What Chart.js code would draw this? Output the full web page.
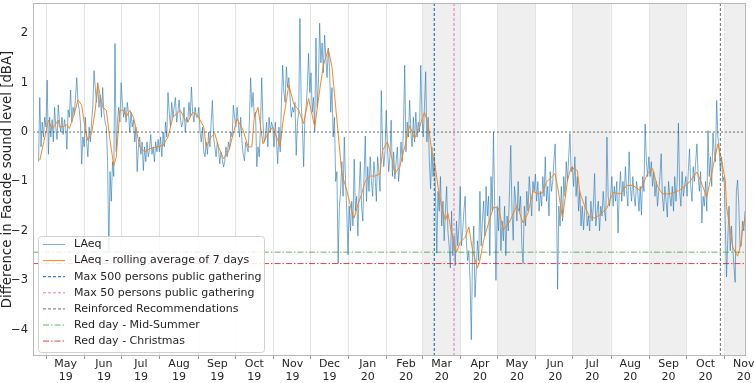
<!DOCTYPE html>
<html>
<head>
<meta charset="utf-8">
<script src="https://cdn.jsdelivr.net/npm/chart.js@4.4.0/dist/chart.umd.min.js"></script>
<style>
  html, body { margin: 0; padding: 0; background: #fff; }
  #wrap { width: 755px; height: 383px; }
</style>
</head>
<body>
<div id="wrap"><canvas id="chart" width="755" height="383"></canvas></div>
<script>
// day numbers are counted from 1 May 2019 (= day 0)

// first day of every block of daily values below (Apr 25 2019, then month starts)
const monthStarts = [-6, 0, 31, 61, 92, 123, 153, 184, 214, 245, 276, 305, 336, 366, 397, 427, 458, 489, 519, 550];

// x tick labels (one per month, May 19 .. Nov 20)
const tickLabels = [
  ["May", "19"], ["Jun", "19"], ["Jul", "19"], ["Aug", "19"], ["Sep", "19"], ["Oct", "19"],
  ["Nov", "19"], ["Dec", "19"], ["Jan", "20"], ["Feb", "20"], ["Mar", "20"], ["Apr", "20"],
  ["May", "20"], ["Jun", "20"], ["Jul", "20"], ["Aug", "20"], ["Sep", "20"], ["Oct", "20"], ["Nov", "20"]
];
const yTicks = [-4, -3, -2, -1, 0, 1, 2];

// daily LAeq difference [dBA], one array per month block
const laeqDaily = [
  [-0.6, 0.7, -0.3, 0.2, -0.1, 0.3],
  [0.1, 1.05, -0.45, 0.3, -0.1, 0.25, -0.2, 0.5, 0.1, -0.15, 0.55, 0.2, 0.0, 0.3, -0.05, 0.25, 0.1, -0.35, 0.45, 0.3, 0.85, 0.2, 0.5, 0.35, 0.7, 1.1, 0.6, 0.45, 0.2, -0.65, -0.1],
  [-0.3, 0.3, -0.2, -0.5, 0.1, -0.2, 0.2, 0.5, 1.24, 0.9, 0.6, 1.0, 0.5, 0.75, 0.3, 0.9, 0.4, 0.2, 0.1, -0.6, -2.43, -0.8, -1.4, -0.6, -0.9, 1.79, -0.4, 0.2, 0.5, 0.2],
  [1.0, 0.6, 0.3, 0.5, 0.2, 0.6, 0.35, 0.0, 0.4, 0.1, 0.25, -0.2, 0.1, -0.8, -0.3, -0.1, -0.45, -0.2, -0.78, -0.3, -0.6, -0.2, -0.5, -0.35, -0.05, -0.45, -0.3, -0.6, -0.2, -0.4, -0.15],
  [-0.4, -0.1, -0.5, 0.0, -0.3, 0.2, -0.1, 0.8, 0.4, 0.1, 0.6, 0.3, 0.5, 0.7, 0.2, 0.4, 0.65, 0.3, 0.1, 0.2, 0.5, 0.0, 0.3, 0.2, 0.6, 0.3, 0.91, 0.4, 0.2, 0.5, 0.3],
  [0.3, 0.5, 0.0, -0.2, 0.1, -0.4, -0.5, -0.2, -0.45, 0.0, -0.3, 0.2, 0.64, -0.1, -0.3, -0.5, -0.2, -0.35, -0.64, -0.4, -0.55, -0.71, -0.6, -0.3, -0.5, -0.2, -0.35, 0.0, -0.1, 0.54],
  [0.3, 0.1, 0.5, 0.2, -0.1, 0.3, -0.2, -0.45, -0.58, -0.2, -0.3, -0.4, 0.2, 1.1, 0.5, 0.8, 0.3, 0.4, -0.7, -0.3, -0.5, 0.1, 1.1, 0.2, -0.2, -0.1, 0.2, -0.3, 0.3, 0.0, 0.2],
  [0.1, -0.3, 0.2, -0.2, -0.64, 0.1, -0.4, 0.6, 1.35, 0.8, 0.6, 1.32, 0.9, 1.1, 0.7, 0.3, 0.5, 0.4, 0.6, -0.47, 0.2, 0.4, 2.3, 0.6, 0.1, -0.7, 0.3, 0.5, 0.9, 1.59],
  [0.8, 1.2, 0.4, 0.7, 0.0, 1.9, 0.5, 1.0, 2.2, 1.4, 1.8, 1.2, 1.96, 1.5, 1.1, 1.7, 1.3, 0.4, 0.9, -0.1, 0.3, -1.0, -0.8, -2.66, -1.5, -1.2, -0.6, -1.3, -0.1, -1.0, -1.6],
  [-2.48, -1.5, -2.0, -1.4, -1.9, -0.55, -1.6, -1.3, -2.1, -1.2, -0.6, -1.5, -1.8, -0.9, -0.08, -1.4, -0.7, -1.2, -0.5, -1.0, -1.3, -0.6, -0.9, -1.4, -0.5, -0.8, -1.2, 0.84, -0.3, -0.7, -0.4],
  [0.44, -0.3, -0.8, -0.5, 0.24, -0.9, -0.4, -0.95, -0.6, -0.3, -1.0, -0.7, -0.2, -0.6, 0.1, 1.35, -0.4, 0.2, -0.1, 0.64, 0.0, -0.3, 0.3, -0.2, 0.4, -0.1, 0.2, 0.0, 1.35],
  [0.3, -0.1, 0.5, 1.22, -0.2, 0.3, -0.6, -1.15, -0.3, -0.9, -0.5, -1.3, -2.45, -1.2, -1.6, -0.9, -1.9, -1.4, -2.2, -1.6, -1.1, -2.0, -2.3, -2.75, -1.6, -2.5, -2.1, -2.7, -1.8, -2.3, -1.9],
  [-1.1, -2.3, -2.0, -1.6, -1.3, -2.2, -2.6, -2.4, -3.0, -4.2, -2.5, -1.9, -3.34, -2.8, -2.2, -2.6, -1.2, -2.3, -1.8, -1.4, -2.1, -1.1, -1.7, -1.3, -2.5, -0.9, -1.6, 0.0, -1.5, -3.0],
  [-1.5, -2.0, -1.3, -2.4, -1.8, -2.2, -1.5, -2.5, -1.7, -2.0, -1.2, -0.27, -1.6, -2.19, -1.1, -1.4, -1.8, -1.0, -1.6, -1.3, -2.3, -2.66, -1.5, -1.9, -1.2, -1.6, -0.9, -1.3, -1.7, -1.0, -1.2],
  [-0.85, -1.4, -1.0, -1.6, -1.2, -1.5, -0.9, -1.3, -0.5, -1.4, -1.1, -1.7, -0.8, -1.2, -1.0, -0.6, -0.24, -1.3, -3.18, -1.5, -1.9, -1.1, -1.8, -0.9, -1.3, -0.6, -1.0, -0.5, -0.03, -0.8],
  [-0.7, -1.1, -0.5, -1.3, -0.9, -1.6, -1.2, -1.9, -1.5, -1.98, -1.6, -1.3, -1.9, -1.7, -2.0, -1.4, -1.8, -1.5, -0.84, -1.9, -1.6, -1.4, -2.0, -1.5, -1.7, -1.2, -1.6, -1.8, -0.1, -1.3, -1.5],
  [-1.3, -0.9, -1.5, -1.1, -1.4, -1.0, -2.04, -1.2, -0.8, -1.4, -1.0, -1.3, -0.7, -1.2, -1.5, -0.4, -1.1, -1.4, -0.9, -1.3, -1.5, -1.0, -1.2, -1.6, -1.1, -1.68, -0.9, -1.2, 0.16, -0.6, -0.9],
  [-0.5, -0.9, -0.6, -1.1, -0.8, -1.3, -1.0, -1.5, -1.2, -0.9, -0.44, -1.3, -1.6, -1.1, -1.4, -1.72, -1.0, -1.3, -1.5, -1.1, -1.6, -0.9, -1.4, -1.0, 0.18, -1.2, -1.5, -0.8, -1.3, -1.1],
  [-0.9, -1.3, -0.8, -0.34, -1.1, -1.4, -0.7, -1.0, -0.6, -0.24, -0.9, -1.2, -0.8, -1.84, -1.3, -1.5, -1.0, -1.6, 0.03, -0.9, -0.5, -1.1, -0.02, -0.4, -0.6, 0.64, -0.1, -0.3, -0.8, -0.5, -1.0],
  [-0.9, -1.8, -2.93, -2.2, -1.5, -2.4, -1.9, -2.33, -2.7, -3.04, -1.2, -0.97, -1.5, -2.33, -2.3, -1.8, -2.0, -1.6]
];

// 7 day rolling average
const avgDays = [-5, 0, 2, 5, 7, 10, 11, 14, 17, 19, 23, 26, 29, 32, 34, 37, 40, 42, 44, 46, 49, 52, 55, 57, 60, 63, 65, 68, 71, 74, 76, 80, 84, 90, 95, 99, 103, 109, 113, 115, 119, 123, 128, 130, 134, 137, 140, 144, 148, 152, 155, 160, 164, 167, 169, 172, 176, 180, 184, 190, 192, 197, 201, 205, 209, 213, 218, 222, 225, 229, 232, 234, 237, 240, 244, 248, 250, 253, 256, 259, 263, 267, 271, 273, 277, 281, 283, 287, 291, 295, 299, 303, 307, 310, 313, 315, 318, 321, 324, 326, 329, 333, 336, 340, 343, 346, 350, 352, 355, 359, 363, 367, 371, 372, 376, 382, 387, 391, 395, 399, 403, 406, 413, 415, 419, 423, 426, 431, 433, 437, 441, 445, 449, 455, 460, 466, 471, 476, 482, 488, 492, 496, 500, 506, 514, 522, 528, 532, 536, 541, 545, 548, 551, 552, 555, 557, 561, 563, 565, 567];
const avgValues = [-0.57, 0.0, 0.24, 0.07, 0.13, 0.24, 0.1, 0.11, 0.15, 0.07, 0.37, 0.65, 0.54, 0.03, -0.17, -0.03, 0.44, 0.98, 0.74, 0.5, 0.44, -0.17, -0.68, -0.51, 0.44, 0.44, 0.3, 0.44, 0.3, -0.03, -0.3, -0.4, -0.34, -0.3, -0.27, -0.1, 0.3, 0.44, 0.24, 0.2, 0.4, 0.34, 0.1, -0.3, -0.1, -0.03, -0.3, -0.54, -0.4, -0.03, 0.27, 0.03, -0.3, -0.3, 0.3, 0.5, -0.24, -0.03, 0.1, -0.3, 0.17, 0.95, 0.57, 0.44, 0.17, 0.68, 0.1, 0.84, 1.35, 1.67, 1.32, 0.78, -0.03, -0.84, -1.18, -1.6, -1.74, -1.47, -1.26, -0.99, -0.89, -0.89, -0.84, -0.37, -0.2, -0.57, -0.84, -0.7, -0.3, 0.13, -0.13, 0.1, 0.4, 0.17, -0.4, -0.57, -1.11, -1.52, -1.78, -1.64, -2.04, -2.43, -2.23, -2.13, -1.92, -2.39, -2.75, -2.59, -2.19, -1.84, -1.52, -1.54, -1.98, -1.94, -1.82, -1.48, -1.84, -1.64, -1.2, -1.25, -1.22, -1.01, -0.84, -1.11, -1.74, -0.98, -0.71, -0.78, -1.22, -1.5, -1.72, -1.74, -1.68, -1.54, -1.22, -1.25, -1.08, -1.08, -1.18, -0.84, -0.74, -1.1, -1.25, -1.25, -1.18, -1.01, -0.81, -1.05, -1.32, -0.71, -0.24, -0.57, -0.98, -1.51, -1.98, -2.33, -2.51, -2.33, -1.98, -1.74];

// restrictions (vertical lines) and red days (horizontal lines)
const eventDays = [315, 331, 547];
const eventNames = ["Max 500 persons public gathering", "Max 50 persons public gathering", "Reinforced Recommendations"];
const redDayLevels = [-2.43, -2.66];
const redDayNames = ["Red day - Mid-Summer", "Red day - Christmas"];

// grey bands: every other month from March 2020
const bandStarts = [305, 366, 427, 489, 550];
const bandEnds = [336, 397, 458, 519, 580];

const X_MIN = -10.5, X_MAX = 567.8, Y_MIN = -4.53, Y_MAX = 2.61;
const FONT = "'DejaVu Sans', sans-serif";

// build point lists
const laeqPoints = [];
laeqDaily.forEach((block, b) => {
  block.forEach((v, i) => laeqPoints.push({ x: monthStarts[b] + i, y: v }));
});
const avgPoints = avgDays.map((d, i) => ({ x: d, y: avgValues[i] }));
const labelDays = monthStarts.slice(1).map(d => d + 16);

function vLine(day) { return [{ x: day, y: Y_MIN }, { x: day, y: Y_MAX }]; }
function hLine(level) { return [{ x: X_MIN, y: level }, { x: X_MAX, y: level }]; }

const eventColors = ["rgba(31,119,180,0.9)", "rgba(227,119,194,1)", "rgba(110,110,110,1)"];
const redColors = ["rgba(44,160,44,0.75)", "rgba(214,39,40,0.85)"];
const dashDot = [6, 2, 1.5, 2];

const datasets = [
  { label: "LAeq", data: laeqPoints, borderColor: "rgba(31,119,180,0.6)", borderWidth: 1, order: 3 },
  { label: "LAeq - rolling average of 7 days", data: avgPoints, borderColor: "rgba(255,127,14,0.95)", borderWidth: 1, order: 2 }
];
eventDays.forEach((d, i) => {
  datasets.push({ label: eventNames[i], data: vLine(d), borderColor: eventColors[i], borderWidth: i === 0 ? 1.3 : 1, borderDash: [3, 2], order: 1 });
});
redDayLevels.forEach((lv, i) => {
  datasets.push({ label: redDayNames[i], data: hLine(lv), borderColor: redColors[i], borderWidth: 1, borderDash: dashDot, order: 1 });
});
datasets.push({ label: "zero", data: hLine(0), borderColor: "rgba(40,40,40,0.85)", borderWidth: 0.8, borderDash: [2, 2], order: 1, hideInLegend: true });

// grey bands + month grid lines under the data
const backdrop = {
  id: "backdrop",
  beforeDatasetsDraw(chart) {
    const { ctx, chartArea: a, scales: { x } } = chart;
    ctx.save();
    ctx.beginPath();
    ctx.rect(a.left, a.top, a.right - a.left, a.bottom - a.top);
    ctx.clip();
    ctx.fillStyle = "rgba(232,232,232,0.7)";
    bandStarts.forEach((s, i) => {
      const x0 = x.getPixelForValue(s), x1 = x.getPixelForValue(bandEnds[i]);
      ctx.fillRect(x0, a.top, x1 - x0, a.bottom - a.top);
    });
    ctx.strokeStyle = "#e4e4e4";
    ctx.lineWidth = 1;
    monthStarts.slice(1).forEach(d => {
      const px = Math.round(x.getPixelForValue(d)) + 0.5;
      ctx.beginPath();
      ctx.moveTo(px, a.top);
      ctx.lineTo(px, a.bottom);
      ctx.stroke();
    });
    ctx.restore();
  },
  afterDraw(chart) {
    const { ctx, chartArea: a, scales: { x } } = chart;
    ctx.save();
    ctx.strokeStyle = "#b8b8b8";
    ctx.lineWidth = 1;
    ctx.strokeRect(a.left + 0.5, a.top + 0.5, a.right - a.left - 1, a.bottom - a.top - 1);
    ctx.strokeStyle = "#999";
    monthStarts.slice(1).forEach(d => {
      const px = Math.round(x.getPixelForValue(d)) + 0.5;
      ctx.beginPath();
      ctx.moveTo(px, a.bottom);
      ctx.lineTo(px, a.bottom + 3);
      ctx.stroke();
    });
    ctx.restore();
  }
};

// legend box in the lower left of the plot
const boxLegend = {
  id: "boxLegend",
  afterDatasetsDraw(chart) {
    const ctx = chart.ctx;
    const items = chart.data.datasets.filter(d => !d.hideInLegend);
    const left = 38, top = 236, w = 226, h = 116, row = 16.1;
    ctx.save();
    ctx.fillStyle = "rgba(255,255,255,0.85)";
    ctx.strokeStyle = "#d0d0d0";
    ctx.lineWidth = 1;
    ctx.beginPath();
    ctx.roundRect(left + 0.5, top + 0.5, w, h, 3);
    ctx.fill();
    ctx.stroke();
    ctx.font = "11px " + FONT;
    ctx.textBaseline = "middle";
    items.forEach((d, i) => {
      const y = top + 8.5 + i * row;
      ctx.strokeStyle = d.borderColor;
      ctx.lineWidth = d.borderWidth;
      ctx.setLineDash(d.borderDash || []);
      ctx.beginPath();
      ctx.moveTo(43, y);
      ctx.lineTo(65, y);
      ctx.stroke();
      ctx.setLineDash([]);
      ctx.fillStyle = "#262626";
      ctx.fillText(d.label, 74, y);
    });
    ctx.restore();
  }
};

new Chart(document.getElementById("chart"), {
  type: "line",
  data: { datasets },
  options: {
    responsive: false,
    devicePixelRatio: 1,
    animation: false,
    events: [],
    elements: { point: { radius: 0 }, line: { tension: 0 } },
    layout: { padding: { top: 3, right: 9, left: 0, bottom: 0 } },
    plugins: { legend: { display: false }, tooltip: { enabled: false } },
    scales: {
      x: {
        type: "linear",
        min: X_MIN,
        max: X_MAX,
        grid: { display: false, drawTicks: false },
        border: { display: false },
        afterBuildTicks: (s) => { s.ticks = labelDays.map(v => ({ value: v })); },
        afterFit: (s) => { s.height = 27; s.paddingLeft = 0; s.paddingRight = 0; },
        ticks: {
          autoSkip: false,
          maxRotation: 0,
          padding: 2,
          color: "#262626",
          font: { family: FONT, size: 11, lineHeight: 1.15 },
          callback: (v, i) => tickLabels[i]
        }
      },
      y: {
        min: Y_MIN,
        max: Y_MAX,
        grid: { display: false, drawTicks: false },
        border: { display: false },
        afterBuildTicks: (s) => { s.ticks = yTicks.map(v => ({ value: v })); },
        afterFit: (s) => { s.width = 33; s.paddingTop = 0; s.paddingBottom = 0; },
        ticks: {
          padding: 5,
          color: "#262626",
          font: { family: FONT, size: 11.5 },
          callback: (v) => (v < 0 ? "\u2212" + Math.abs(v) : String(v))
        },
        title: {
          display: true,
          text: "Difference in Facade sound level [dBA]",
          color: "#262626",
          padding: { top: 0, bottom: 0 },
          font: { family: FONT, size: 13.3, lineHeight: 1.15 }
        }
      }
    }
  },
  plugins: [backdrop, boxLegend]
});
</script>
</body>
</html>
